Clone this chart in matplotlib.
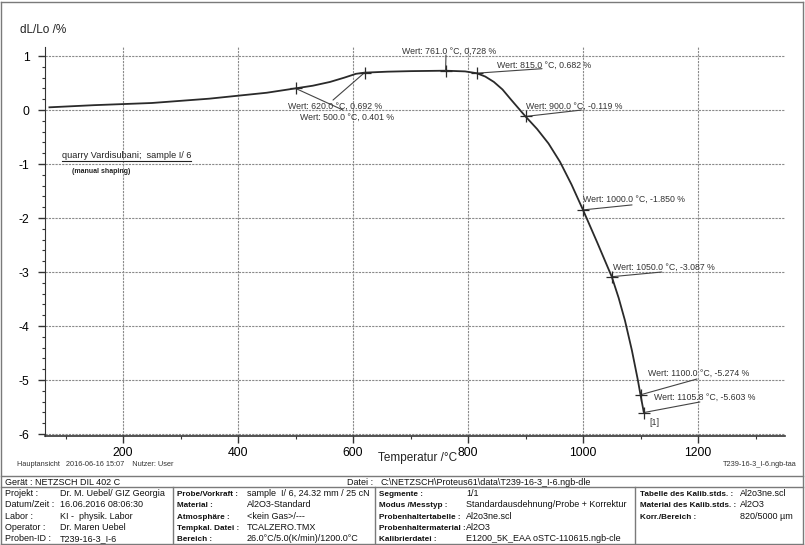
import numpy as np
import matplotlib
matplotlib.use("Agg")
import matplotlib.pyplot as plt
from matplotlib.lines import Line2D

plt.rcParams['font.family'] = ['Liberation Sans', 'DejaVu Sans']
plt.rcParams['axes.unicode_minus'] = False

# Kurve dL/Lo
temp = [72, 150, 250, 350, 450, 500, 530, 560, 585, 605, 620, 660, 700, 761, 795,
        815, 830, 845, 860, 875, 900, 920, 940, 960, 980, 1000, 1025, 1050, 1062,
        1073, 1085, 1095, 1100, 1105.8]
dl = [0.05, 0.09, 0.13, 0.21, 0.32, 0.401, 0.45, 0.52, 0.60, 0.67, 0.692, 0.71,
      0.72, 0.728, 0.715, 0.682, 0.62, 0.52, 0.38, 0.19, -0.119, -0.35, -0.62,
      -0.96, -1.38, -1.850, -2.46, -3.087, -3.48, -3.9, -4.45, -4.98, -5.274, -5.603]

# Markierte Werte
mark_t = [500.0, 620.0, 761.0, 815.0, 900.0, 1000.0, 1050.0, 1100.0, 1105.8]
mark_v = [0.401, 0.692, 0.728, 0.682, -0.119, -1.850, -3.087, -5.274, -5.603]
mark_txt = ["Wert: 500.0 °C, 0.401 %", "Wert: 620.0 °C, 0.692 %",
            "Wert: 761.0 °C, 0,728 %", "Wert: 815.0 °C, 0.682 %",
            "Wert: 900.0 °C, -0.119 %", "Wert: 1000.0 °C, -1.850 %",
            "Wert: 1050.0 °C, -3.087 %", "Wert: 1100.0 °C, -5.274 %",
            "Wert: 1105.8 °C, -5.603 %"]
# Versatz (Pixel) fuer Text und Hinweislinie
txt_off = [(4.5, -28.7), (-76.5, -33.4), (-44, 19.7), (20.4, 8.2), (0, 10.4),
           (0, 11), (1, 9.7), (7.5, 21.8), (10, 15.6)]
lead_off = [(47.5, -21.7), (-31.5, -27.4), (0.4, 15.7), (65.4, 4.5), (56, 6.4),
            (49, 5), (50, 4.7), (56.5, 15.8), (56, 10.6)]

# Kopfdaten
geraet = "Gerät : NETZSCH DIL 402 C"
datei = "C:\\NETZSCH\\Proteus61\\data\\T239-16-3_I-6.ngb-dle"
col1 = [("Projekt :", "Dr. M. Uebel/ GIZ Georgia"),
        ("Datum/Zeit :", "16.06.2016 08:06:30"),
        ("Labor :", "KI -  physik. Labor"),
        ("Operator :", "Dr. Maren Uebel"),
        ("Proben-ID :", "T239-16-3_I-6")]
col2 = [("Probe/Vorkraft :", "sample  I/ 6, 24.32 mm / 25 cN"),
        ("Material :", "Al2O3-Standard"),
        ("Atmosphäre :", "<kein Gas>/---"),
        ("Tempkal. Datei :", "TCALZERO.TMX"),
        ("Bereich :", "26.0°C/5.0(K/min)/1200.0°C")]
col3 = [("Segmente :", "1/1"),
        ("Modus /Messtyp :", "Standardausdehnung/Probe + Korrektur"),
        ("Probenhaltertabelle :", "Al2o3ne.scl"),
        ("Probenhaltermaterial :", "Al2O3"),
        ("Kalibrierdatei :", "E1200_5K_EAA oSTC-110615.ngb-cle")]
col4 = [("Tabelle des Kalib.stds. :", "Al2o3ne.scl"),
        ("Material des Kalib.stds. :", "Al2O3"),
        ("Korr./Bereich :", "820/5000 µm")]

W, H = 805, 545
fig = plt.figure(figsize=(W / 100, H / 100), dpi=100)


def px(x, y):
    return x / W, 1 - y / H


ax = fig.add_axes([45 / W, 1 - 436 / H, 740 / W, 389 / H])
ax.set_xlim(64.3, 1351.3)
ax.set_ylim(-6.037, 1.167)

ax.plot(temp, dl, color='#2a2a2a', lw=1.3, zorder=3)
ax.plot(mark_t, mark_v, ls='none', marker='+', ms=9, mew=0.9, color='#2a2a2a', zorder=4)

for t, v, s, to, lo in zip(mark_t, mark_v, mark_txt, txt_off, lead_off):
    ax.annotate("", xy=(t, v), xytext=lo, textcoords='offset pixels',
                arrowprops=dict(arrowstyle='-', color='#444444', lw=0.8,
                                shrinkA=0, shrinkB=0))
    ax.annotate(s, xy=(t, v), xytext=to, textcoords='offset pixels',
                fontsize=6.3, color='#333333', ha='left', va='center')
ax.annotate("[1]", xy=(mark_t[-1], mark_v[-1]), xytext=(6, -10),
            textcoords='offset pixels', fontsize=6.3, color='#333333', va='center')

ax.set_xticks([200, 400, 600, 800, 1000, 1200])
ax.set_xticks(np.arange(100, 1400, 100), minor=True)
ax.set_yticks(range(-6, 2))
ax.set_yticks(np.arange(-6, 1.2, 0.2), minor=True)
ax.tick_params(which='major', length=5, width=1, labelsize=8.8, color='#333333')
ax.tick_params(which='minor', length=2.5, width=0.8, color='#333333')
ax.tick_params(axis='x', pad=3)
ax.tick_params(axis='y', pad=6)
ax.grid(True, which='major', color='#8a8a8a', lw=0.8, ls=(0, (2, 1)))
for sp in ['top', 'right']:
    ax.spines[sp].set_visible(False)
ax.spines['left'].set_color('#333333')
ax.spines['bottom'].set_color('#333333')
ax.spines['bottom'].set_linewidth(1.2)

fig.text(*px(20, 30), "dL/Lo /%", fontsize=8.5, va='center', color='#222222')
fig.text(*px(418, 458), "Temperatur /°C", fontsize=8.5, ha='center', va='center',
         color='#222222')
fig.text(*px(17, 464), "Hauptansicht   2016-06-16 15:07    Nutzer: User",
         fontsize=5.3, va='center', color='#333333')
fig.text(*px(797, 465), "T239-16-3_I-6.ngb-taa", fontsize=5.3, ha='right',
         va='center', color='#333333')

t1 = fig.text(*px(62, 155), "quarry Vardisubani;  sample I/ 6", fontsize=6.6,
              va='center', color='#222222')
fig.text(*px(72, 171), "(manual shaping)", fontsize=5, fontweight='bold',
         va='center', color='#222222')

# Rahmen und Tabelle
gray = '#7a7a7a'
lines = [((1, 1), (2, 544)), ((803, 803), (2, 544)), ((1, 803), (2, 2)),
         ((1, 803), (544, 544)), ((1, 803), (476, 476)), ((1, 803), (487, 487)),
         ((173, 173), (487, 545)), ((375, 375), (487, 545)), ((635, 635), (487, 545))]
for xs, ys in lines:
    fig.add_artist(Line2D([x / W for x in xs], [1 - y / H for y in ys],
                          color=gray, lw=1))

fs = 6.5
fig.text(*px(5, 485), geraet, fontsize=fs, va='baseline', color='#111111')
fig.text(*px(373, 485), "Datei :", fontsize=fs, va='baseline', ha='right',
         color='#111111')
fig.text(*px(380, 485), datei, fontsize=fs, va='baseline', color='#111111')

row_base = [496, 507, 519, 530, 541]
for cols, xl, xv, bold in [(col1, 5, 60, False), (col2, 177, 247, True),
                           (col3, 379, 466, True), (col4, 640, 740, True)]:
    for (lab, val), y in zip(cols, row_base):
        fig.text(*px(xl, y), lab, fontsize=5.9 if bold else fs, va='baseline',
                 color='#111111', fontweight='bold' if bold else 'normal')
        fig.text(*px(xv, y), val, fontsize=fs, va='baseline', color='#111111')

# Unterstreichung
fig.canvas.draw()
bb = t1.get_window_extent()
uy = bb.y0 - 1
fig.add_artist(Line2D([bb.x0 / W, bb.x1 / W], [uy / H, uy / H], color='#222222', lw=0.8))

fig.savefig("out.png", dpi=100)
